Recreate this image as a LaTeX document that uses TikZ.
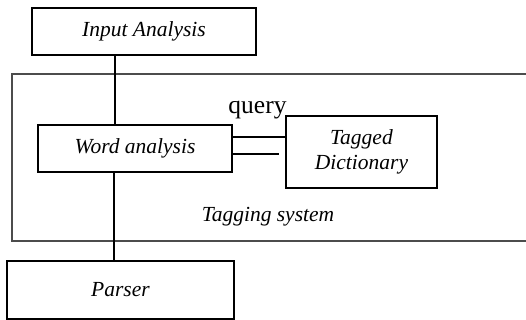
\documentclass[tikz,border=0pt]{standalone}
\usepackage{fontspec}
\setmainfont{Liberation Serif}
\begin{document}
\begin{tikzpicture}[x=1pt,y=-1pt,
  box/.style={draw,line width=1.4pt,inner sep=0pt,align=center,font=\fontsize{21.5}{25}\selectfont\itshape},
  conn/.style={line width=1.4pt}]
\useasboundingbox (0,0) rectangle (526,320);
% Tagging system container (open to the right edge)
\draw[line width=1.4pt,black!70] (527,74) -- (12,74) -- (12,241) -- (527,241);
\node[box,minimum width=224pt,minimum height=47pt] (inp) at (144,31.5) {Input Analysis};
\node[box,minimum width=194pt,minimum height=47pt] (word) at (135,148.5) {Word analysis};
\node[box,minimum width=151pt,minimum height=72pt] (dict) at (361.5,152) {Tagged\\Dictionary};
\node[box,minimum width=227pt,minimum height=58pt] (parser) at (120.5,290) {Parser};
\node[font=\fontsize{25.5}{28}\selectfont,inner sep=0pt,anchor=base] (query) at (257.5,114) {query};
\node[font=\fontsize{21.5}{25}\selectfont\itshape,inner sep=0pt,anchor=base] (tagging) at (268,221) {Tagging system};
\draw[conn] ([xshift=-20pt]word.north) -- ([xshift=-20pt]word.north |- inp.south);
\draw[conn] ([xshift=-21pt]word.south) -- ([xshift=-21pt]word.south |- parser.north);
\draw[conn] ([yshift=11.5pt]word.east) -- ([yshift=11.5pt]word.east -| dict.west);
\draw[conn] ([yshift=-5.5pt]word.east) -- ([xshift=-6pt,yshift=-5.5pt]word.east -| dict.west);
\end{tikzpicture}
\end{document}
